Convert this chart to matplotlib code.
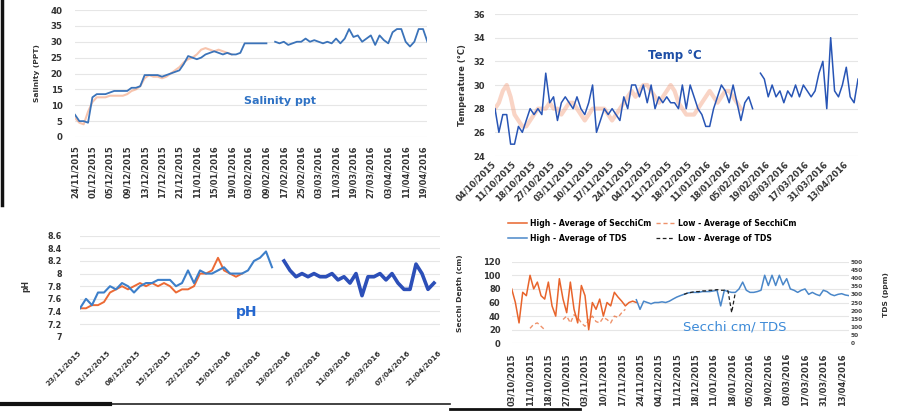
import numpy as np
import matplotlib
matplotlib.use("Agg")
import matplotlib.pyplot as plt
from matplotlib.lines import Line2D

nan = np.nan
W, H = 899, 417

# ---------------- Salinity (ppt) ----------------
sal_dates = ["24/11/2015", "01/12/2015", "05/12/2015", "09/12/2015", "13/12/2015",
             "17/12/2015", "21/12/2015", "11/01/2016", "15/01/2016", "19/01/2016",
             "03/02/2016", "09/02/2016", "17/02/2016", "25/02/2016", "03/03/2016",
             "11/03/2016", "19/03/2016", "27/03/2016", "03/04/2016", "11/04/2016",
             "19/04/2016"]
sal_high = [7, 5, 5, 4.5, 12.5, 13.5, 13.5, 13.5, 14, 14.5, 14.5, 14.5,
            14.5, 15.5, 15.5, 16, 19.5, 19.5, 19.5, 19.5, 19, 19.5, 20, 20.5,
            21, 23, 25.5, 25, 24.5, 25, 26, 26.5, 27, 26.5, 26, 26.5,
            26, 26, 26.5, 29.5, 29.5, 29.5, 29.5, 29.5, 29.5, nan, 30, 29.5,
            30, 29, 29.5, 30, 30, 31, 30, 30.5, 30, 29.5, 30, 29.5,
            31, 29.5, 31, 34, 31.5, 32, 30, 31, 32, 29, 32, 30.5,
            29.5, 33, 34, 34, 30, 28.5, 30, 34, 34, 30]
sal_low = [6, 4.5, 4, 8, 11, 12.5, 12.5, 12.5, 13, 13, 13, 13,
           13.5, 14.5, 15, 16, 18.5, 19.5, 19, 19, 18.5, 19, 20, 21,
           22, 23.5, 24.5, 25, 26, 27.5, 28, 27.5, 27, 27.5, 27, 26.5, 26]

# ---------------- Temperature (°C) ----------------
temp_dates = ["04/10/2015", "11/10/2015", "18/10/2015", "27/10/2015", "03/11/2015",
              "10/11/2015", "17/11/2015", "24/11/2015", "04/12/2015", "11/12/2015",
              "18/12/2015", "11/01/2016", "18/01/2016", "05/02/2016", "19/02/2016",
              "03/03/2016", "17/03/2016", "31/03/2016", "13/04/2016"]
temp_high = [28, 26, 27.5, 27.5, 25, 25, 26.5, 26, 27, 28,
             27.5, 28, 27.5, 31, 28.5, 29, 27, 28.5, 29, 28.5,
             28, 29, 28, 27.5, 28.5, 30, 26, 27, 28, 27.5,
             28, 27.5, 27, 29, 28, 30, 30, 29, 30, 28.5,
             30, 28, 29, 28.5, 29, 28.5, 28.5, 28, 30, 28,
             30, 29, 28, 27.5, 26.5, 26.5, 28, 29, 30, 29.5,
             28.5, 30, 28.5, 27, 28.5, 29, 28, nan, 31, 30.5,
             29, 30, 29, 29.5, 28.5, 29.5, 29, 30, 29, 30,
             29.5, 29, 29.5, 31, 32, 28, 34, 29.5, 29, 30,
             31.5, 29, 28.5, 30.5]
temp_low = [28, 28.5, 29.5, 30, 29, 27.5, 27, 26.5, 26.5, 27,
            27.5, 28, 28, 28, 28.5, 28, 28, 27.5, 28, 28.5,
            28.5, 28, 27.5, 27, 27.5, 28, 28, 28, 28, 27.5,
            27, 27.5, 28, 28.5, 29, 29.5, 29, 29.5, 30, 30,
            29.5, 29, 28.5, 29, 29.5, 30, 29.5, 28.5, 28, 27.5,
            27.5, 27.5, 28, 28.5, 29, 29.5, 29, 28.5, 29, 29.5,
            29.5, 29, 28.5, 28]

# ---------------- pH ----------------
ph_dates = ["23/11/2015", "01/12/2015", "08/12/2015", "15/12/2015", "22/12/2015",
            "15/01/2016", "22/01/2016", "13/02/2016", "27/02/2016", "11/03/2016",
            "25/03/2016", "07/04/2016", "21/04/2016"]
ph_high = [7.45, 7.6, 7.5, 7.7, 7.7, 7.8, 7.75, 7.85, 7.8, 7.7,
           7.8, 7.85, 7.85, 7.9, 7.9, 7.9, 7.8, 7.85, 8.05, 7.85,
           8.05, 8.0, 8.0, 8.05, 8.1, 8.0, 8.0, 8.0, 8.05, 8.2,
           8.25, 8.35, 8.1, nan, 8.2, 8.05, 7.95, 8.0, 7.95, 8.0,
           7.95, 7.95, 8.0, 7.9, 7.95, 7.85, 8.0, 7.65, 7.95, 7.95,
           8.0, 7.9, 8.0, 7.85, 7.75, 7.75, 8.15, 8.0, 7.75, 7.85]
ph_low = [7.45, 7.45, 7.5, 7.5, 7.55, 7.7, 7.75, 7.8, 7.75, 7.8,
          7.85, 7.8, 7.85, 7.8, 7.85, 7.8, 7.7, 7.75, 7.75, 7.8,
          8.0, 8.0, 8.05, 8.25, 8.05, 8.0, 7.95, 8.0]
ph_yticks = ["7", "7.2", "7.4", "7.6", "7.8", "8", "8.2", "8.4", "8.6"]

# ---------------- Secchi depth (cm) / TDS (ppm) ----------------
sec_dates = ["03/10/2015", "11/10/2015", "18/10/2015", "27/10/2015", "03/11/2015",
             "10/11/2015", "17/11/2015", "24/11/2015", "04/12/2015", "11/12/2015",
             "18/12/2015", "11/01/2016", "18/01/2016", "05/02/2016", "19/02/2016",
             "03/03/2016", "17/03/2016", "31/03/2016", "13/04/2016"]
secchi_high = [80, 60, 30, 75, 70, 100, 80, 90, 70, 65,
               90, 55, 40, 95, 65, 45, 90, 50, 30, 85,
               70, 20, 60, 50, 65, 40, 60, 55, 75, 68,
               62, 55, 60, 62, 60]
secchi_low = [nan, nan, nan, nan, nan, 22, 28, 30, 25, 20,
              nan, nan, nan, nan, 35, 40, 30, 42, 38, 30,
              25, 35, 40, 32, 30, 38, 35, 30, 40, 38, 45, 50]
tds_high_start = 34
tds_high = [267, 208, 258, 250, 242, 250, 250, 254, 250, 258,
            271, 283, 292, 300, 308, 312, 312, 312, 317, 317,
            317, 321, 325, 229, 325, 317, 312, 312, 333, 375,
            325, 312, 312, 317, 325, 417, 354, 417, 354, 417,
            358, 396, 333, 325, 312, 325, 333, 300, 312, 300,
            292, 325, 317, 300, 292, 300, 304, 296, 292]
tds_low_start = 47
tds_low = [300, 308, 312, 317, 317, 321, 321, 325, 325, 329,
           325, 325, 321, 188, 312]

N_SEC = 93

def pad(values, n, start=0):
    arr = np.full(n, np.nan)
    arr[start:start + len(values)] = values
    return arr


TICK_COLOR = "#333333"
GRID = dict(color="#e6e6e6", lw=0.8)

fig = plt.figure(figsize=(W / 100, H / 100), dpi=100)
fig.patch.set_facecolor("white")


def panel(x0, x1, ytop, ybot):
    ax = fig.add_axes([x0 / W, 1 - ybot / H, (x1 - x0) / W, (ybot - ytop) / H])
    for s in ax.spines.values():
        s.set_visible(False)
    ax.tick_params(length=0)
    ax.set_facecolor("none")
    ax.set_axisbelow(True)
    return ax


def style_ticks(ax, xsize=6.0, ysize=6.0):
    for lab in ax.get_xticklabels():
        lab.set_fontsize(xsize)
        lab.set_fontweight("bold")
        lab.set_color(TICK_COLOR)
    for lab in ax.get_yticklabels():
        lab.set_fontsize(ysize)
        lab.set_fontweight("bold")
        lab.set_color(TICK_COLOR)


# ---- Salinity panel ----
sx0, sx1 = 75, 427.4
ax1 = panel(sx0, sx1, 10, 137)
xs = np.arange(len(sal_high))
ax1.plot(xs, pad(sal_low, len(sal_high)), color="#f08a5d", alpha=0.5, lw=1.5)
ax1.plot(xs, sal_high, color="#3b73b9", lw=1.3)
ax1.set_xlim(0, 81)
ax1.set_ylim(0, 40)
ax1.set_yticks(range(0, 41, 5))
ax1.set_xticks(range(0, 81, 4))
ax1.set_xticklabels(sal_dates, rotation=90)
ax1.tick_params(axis="x", pad=6)
ax1.tick_params(axis="y", pad=9)
ax1.grid(axis="y", **GRID)
style_ticks(ax1, 6.0, 6.2)
ax1.set_ylabel("Salinity (PPT)", fontsize=5.4, fontweight="bold", color=TICK_COLOR)
ax1.yaxis.set_label_coords((40 - sx0) / (sx1 - sx0), 0.5)
fig.text(280 / W, 1 - 101 / H, "Salinity ppt", fontsize=8, fontweight="bold",
         color="#2f72c4", ha="center", va="center")

# ---- Temperature panel ----
tx0, tx1 = 495, 858
ax2 = panel(tx0, tx1, 14, 156)
xt = np.arange(len(temp_high))
ax2.plot(xt, pad(temp_low, len(temp_high)), color="#f3a080", alpha=0.45, lw=3)
ax2.plot(xt, temp_high, color="#2855b5", lw=1.1)
ax2.set_xlim(0, 93)
ax2.set_ylim(24, 36)
ax2.set_yticks(range(24, 37, 2))
ax2.set_xticks(range(0, 91, 5))
ax2.set_xticklabels(temp_dates, rotation=45, ha="right", va="center",
                    rotation_mode="anchor")
ax2.tick_params(axis="x", pad=5)
ax2.tick_params(axis="y", pad=7)
ax2.grid(axis="y", **GRID)
style_ticks(ax2, 6.0, 6.0)
ax2.set_ylabel("Temperature (\u00b0C)", fontsize=6, fontweight="bold", color=TICK_COLOR)
ax2.yaxis.set_label_coords((467 - tx0) / (tx1 - tx0), 0.5)
fig.text(675 / W, 1 - 56 / H, "Temp \u00b0C", fontsize=8.5, fontweight="bold",
         color="#1d4ea6", ha="center", va="center")

# ---- pH panel ----
px0, px1 = 80, 440
ax3 = panel(px0, px1, 235.7, 336.7)
xp = np.arange(len(ph_high))
ph_h = np.array(ph_high)
ax3.plot(xp, pad(ph_low, len(ph_high)), color="#ec6a35", lw=1.4)
ax3.plot(xp[:33], ph_h[:33], color="#3d7fc9", lw=1.5)
ax3.plot(xp[33:], ph_h[33:], color="#2c4fb8", lw=2.6)
ax3.set_xlim(0, 60)
ax3.set_ylim(7, 8.6)
ax3.set_yticks(np.linspace(7, 8.6, 9))
ax3.set_yticklabels(ph_yticks)
ax3.set_xticks(range(0, 61, 5))
ax3.set_xticklabels(ph_dates, rotation=45, ha="right", va="center",
                    rotation_mode="anchor")
ax3.tick_params(axis="x", pad=11)
ax3.tick_params(axis="y", pad=13)
ax3.grid(axis="y", **GRID)
style_ticks(ax3, 5.3, 5.8)
ax3.set_ylabel("pH", fontsize=5.6, fontweight="bold", color=TICK_COLOR)
ax3.yaxis.set_label_coords((30 - px0) / (px1 - px0), 0.5)
fig.text(247 / W, 1 - 312 / H, "pH", fontsize=10, fontweight="bold",
         color="#2467cf", ha="center", va="center")

# ---- Secchi / TDS panel ----
cx0, cx1 = 511.7, 849
ax4 = panel(cx0, cx1, 261.7, 343.3)
ax4b = ax4.twinx()
for s in ax4b.spines.values():
    s.set_visible(False)
ax4b.tick_params(length=0)
xc = np.arange(N_SEC)
h1, = ax4.plot(xc, pad(secchi_high, N_SEC), color="#e8642c", lw=1.1)
h3, = ax4.plot(xc, pad(secchi_low, N_SEC), color="#e8642c", lw=1.0, ls=(0, (3, 2)),
               alpha=0.7)
h2, = ax4b.plot(xc, pad(tds_high, N_SEC, tds_high_start), color="#4a87c9", lw=1.1)
h4, = ax4b.plot(xc, pad(tds_low, N_SEC, tds_low_start), color="#222222", lw=0.9,
                ls=(0, (3, 2)))
ax4.set_xlim(0, 92)
ax4.set_ylim(0, 120)
ax4.set_yticks(range(0, 121, 20))
ax4.set_xticks(range(0, 91, 5))
ax4.set_xticklabels(sec_dates, rotation=90)
ax4.tick_params(axis="x", pad=7)
ax4.tick_params(axis="y", pad=8)
ax4.grid(axis="y", **GRID)
style_ticks(ax4, 6.0, 6.0)
ax4b.set_ylim(0, 500)
ax4b.set_yticks(range(0, 501, 50))
for lab in ax4b.get_yticklabels():
    lab.set_fontsize(4.2)
    lab.set_fontweight("bold")
    lab.set_color("#444444")
ax4b.tick_params(axis="y", pad=1)
ax4.set_ylabel("Secchi Depth (cm)", fontsize=5.4, fontweight="bold", color=TICK_COLOR)
ax4.yaxis.set_label_coords((463 - cx0) / (cx1 - cx0), 0.62)
ax4b.set_ylabel("TDS (ppm)", fontsize=5.4, fontweight="bold", color=TICK_COLOR,
                rotation=90)
ax4b.yaxis.set_label_coords((883 - cx0) / (cx1 - cx0), 0.6)
fig.text(735 / W, 1 - 327 / H, "Secchi cm/ TDS", fontsize=9.5,
         color="#3c8ad8", ha="center", va="center")
fig.legend([h1, h2, h3, h4],
           ["High - Average of SecchiCm", "High - Average of TDS",
            "Low - Average of SecchiCm", "Low - Average of TDS"],
           ncol=2, loc="upper left", bbox_to_anchor=(508 / W, 1 - 219 / H),
           frameon=False, prop={"size": 5.6, "weight": "bold"},
           handlelength=2.4, handletextpad=0.4, columnspacing=0.6,
           borderpad=0, borderaxespad=0, labelspacing=0.75)

# ---- page edges ----
fig.add_artist(Line2D([1.5 / W, 1.5 / W], [1, 1 - 205 / H], color="#111111", lw=2.5))
fig.add_artist(Line2D([0, 450 / W], [1 - 404 / H] * 2, color="#222222", lw=1.2))
fig.add_artist(Line2D([0, 110 / W], [1 - 404 / H] * 2, color="#111111", lw=3))
fig.add_artist(Line2D([450 / W, 580 / W], [1 - 409 / H] * 2, color="#111111", lw=2))

fig.savefig("out.png", dpi=100, facecolor="white")
